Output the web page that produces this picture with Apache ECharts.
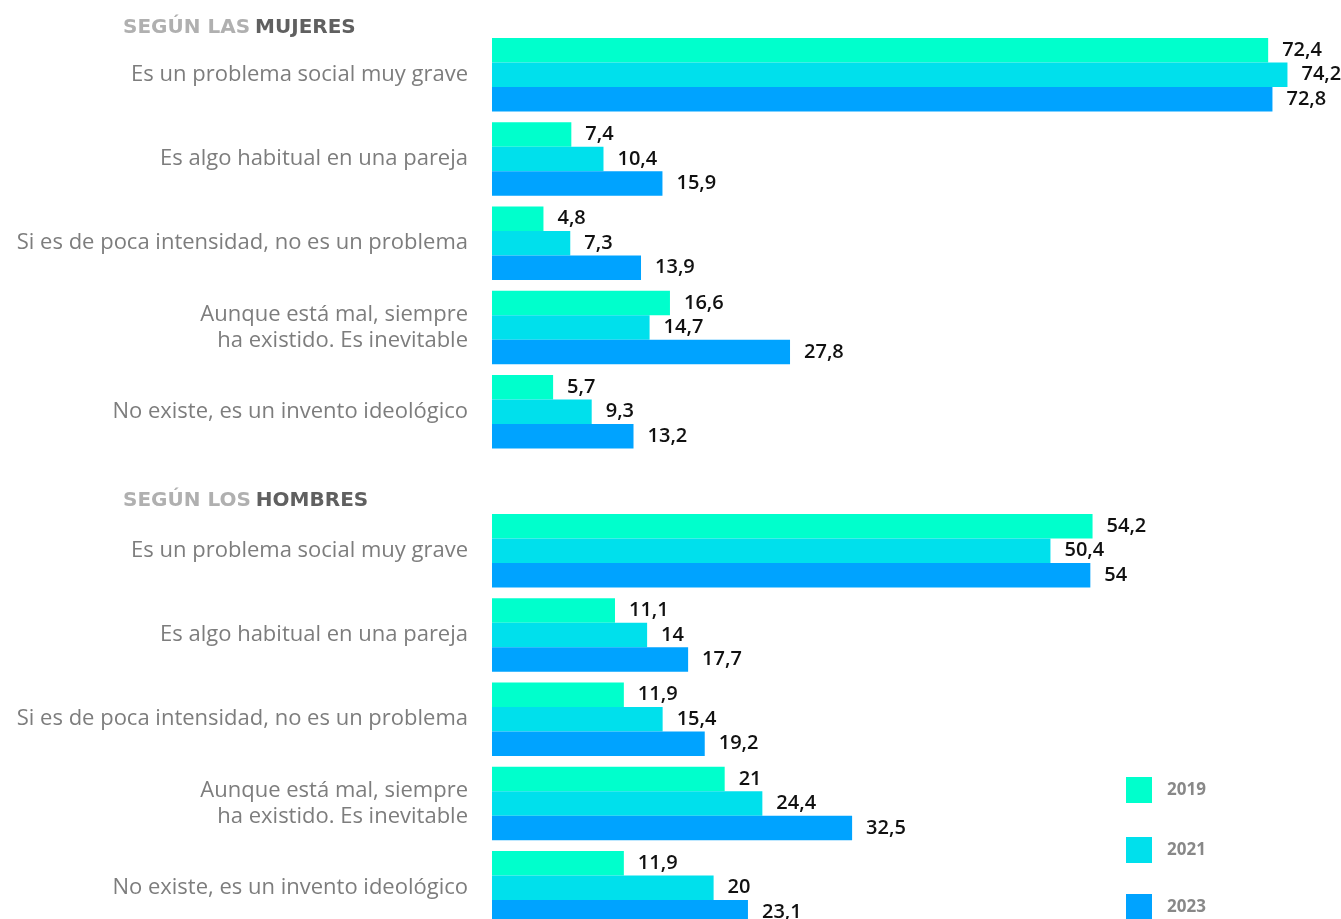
<!DOCTYPE html>
<html>
<head>
<meta charset="utf-8">
<script src="https://cdn.jsdelivr.net/npm/echarts@6/dist/echarts.min.js"></script>
<style>
  html, body { margin: 0; padding: 0; background: #fff; }
  #chart { width: 1341px; height: 919px; }
</style>
</head>
<body>
<div id="chart"></div>
<script>
const colors = ['#00FFCC', '#00E0EC', '#00A3FF']
const years = ['2019', '2021', '2023']
const categories = [
  'Es un problema social muy grave',
  'Es algo habitual en una pareja',
  'Si es de poca intensidad, no es un problema',
  'Aunque está mal, siempre\nha existido. Es inevitable',
  'No existe, es un invento ideológico'
]

// según las mujeres
const mujeres2019 = [72.4, 7.4, 4.8, 16.6, 5.7]
const mujeres2021 = [74.2, 10.4, 7.3, 14.7, 9.3]
const mujeres2023 = [72.8, 15.9, 13.9, 27.8, 13.2]

// según los hombres
const hombres2019 = [54.2, 11.1, 11.9, 21, 11.9]
const hombres2021 = [50.4, 14, 15.4, 24.4, 20]
const hombres2023 = [54, 17.7, 19.2, 32.5, 23.1]

const chart = echarts.init(document.getElementById('chart'), null, { renderer: 'canvas' })

function makeSeries(name, data, idx, color) {
  return {
    name: name,
    type: 'bar',
    xAxisIndex: idx,
    yAxisIndex: idx,
    data: data,
    barWidth: 24.5,
    barGap: '0%',
    itemStyle: { color: color },
    label: {
      show: true,
      position: 'right',
      distance: 14,
      color: '#111',
      fontFamily: 'Open Sans',
      fontWeight: 600,
      fontSize: 20,
      formatter: p => String(p.value).replace('.', ',')
    },
    emphasis: { disabled: true }
  }
}

function catAxis(idx) {
  return {
    type: 'category',
    gridIndex: idx,
    data: categories,
    inverse: true,
    axisLine: { show: false },
    axisTick: { show: false },
    axisLabel: {
      margin: 24,
      color: '#7d7d7d',
      fontFamily: 'Open Sans',
      fontSize: 22,
      lineHeight: 26,
      align: 'right'
    }
  }
}

function valAxis(idx, max) {
  return {
    type: 'value',
    gridIndex: idx,
    min: 0,
    max: max,
    show: false,
    splitLine: { show: false }
  }
}

function yearLegend(i, top) {
  return {
    data: [years[i]],
    left: 1126,
    top: top,
    padding: 0,
    itemWidth: 26,
    itemHeight: 26,
    icon: 'rect',
    textStyle: { color: '#888888', fontFamily: 'Open Sans', fontWeight: 'bold', fontSize: 17, padding: [0, 0, 0, 10] },
    selectedMode: false
  }
}

const titleRich = {
  a: { color: '#b0b0b0', fontFamily: 'DejaVu Sans', fontWeight: 'bold', fontSize: 20 },
  b: { color: '#606060', fontFamily: 'DejaVu Sans', fontWeight: 'bold', fontSize: 20 }
}

var option = {
  animation: false,
  color: colors,
  title: [{
    text: '{a|SEGÚN LAS} {b|MUJERES}',
    left: 118,
    top: 13,
    textStyle: { rich: titleRich }
  }, {
    text: '{a|SEGÚN LOS} {b|HOMBRES}',
    left: 118,
    top: 486,
    textStyle: { rich: titleRich }
  }],
  legend: [yearLegend(0, 777), yearLegend(1, 837), yearLegend(2, 894)],
  grid: [{
    left: 492, top: 32.6, width: 836.2, height: 421.25, outerBoundsMode: 'none'
  }, {
    left: 492, top: 508.6, width: 842.1, height: 421.25, outerBoundsMode: 'none'
  }],
  xAxis: [valAxis(0, 78), valAxis(1, 76)],
  yAxis: [catAxis(0), catAxis(1)],
  series: [
    makeSeries(years[0], mujeres2019, 0, colors[0]),
    makeSeries(years[1], mujeres2021, 0, colors[1]),
    makeSeries(years[2], mujeres2023, 0, colors[2]),
    makeSeries(years[0], hombres2019, 1, colors[0]),
    makeSeries(years[1], hombres2021, 1, colors[1]),
    makeSeries(years[2], hombres2023, 1, colors[2])
  ]
};

chart.setOption(option);
</script>
</body>
</html>
